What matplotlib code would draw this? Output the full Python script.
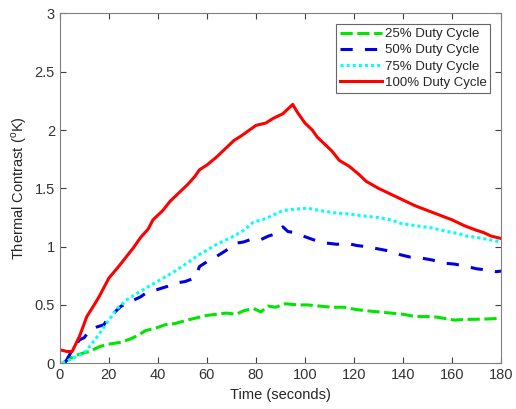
from matplotlib import pyplot as plt
import numpy as np

plt.rcParams['font.family'] = ['Liberation Sans', 'DejaVu Sans']
plt.rcParams['mathtext.fontset'] = 'custom'
plt.rcParams['mathtext.rm'] = 'Liberation Sans'

# (time in s, contrast in K)
t_red = [1, 3, 5, 8, 11, 14, 16, 20, 24, 27, 30, 33, 36, 38, 42, 45, 48, 52, 55, 57, 60, 64, 67, 71, 74, 76, 80, 84, 87, 91, 93, 95,
         97, 100, 103, 105, 108, 111, 114, 118, 122, 125, 130, 135, 140, 145, 150, 155, 160, 165, 170, 173, 176, 178, 180]
v_red = [0.11, 0.10, 0.10, 0.23, 0.40, 0.50, 0.57, 0.73, 0.83, 0.91, 0.99, 1.08, 1.15, 1.23, 1.31, 1.39, 1.45, 1.53, 1.60, 1.66, 1.70, 1.77, 1.83, 1.91, 1.95, 1.98, 2.04, 2.06, 2.10, 2.14, 2.18, 2.22,
         2.15, 2.06, 2.00, 1.94, 1.88, 1.82, 1.74, 1.69, 1.62, 1.56, 1.50, 1.45, 1.40, 1.35, 1.31, 1.27, 1.23, 1.18, 1.14, 1.12, 1.09, 1.08, 1.07]

t_cyan = [1, 4, 7, 10, 12, 15, 18, 21, 23, 27, 30, 34, 38, 43, 47, 52, 56, 60, 64, 67, 71, 75, 79, 84, 88, 91, 95, 101, 106, 112, 118,
          125, 130, 135, 139, 145, 152, 158, 163, 166, 170, 175, 180]
v_cyan = [0.0, 0.03, 0.06, 0.09, 0.14, 0.22, 0.31, 0.40, 0.46, 0.54, 0.58, 0.63, 0.68, 0.74, 0.79, 0.86, 0.92, 0.97, 1.02, 1.05, 1.09, 1.14, 1.21, 1.24, 1.28, 1.31, 1.32, 1.33, 1.31, 1.29, 1.28,
          1.26, 1.25, 1.23, 1.20, 1.18, 1.16, 1.13, 1.11, 1.09, 1.08, 1.06, 1.04]

t_blue = [2, 5, 8, 10, 12, 15, 18, 20, 22, 25, 28, 30, 33, 35, 38, 41, 44, 48, 51, 55, 57, 60, 62, 65, 68, 72, 75, 79, 82, 85, 88, 91,
          93, 96, 98, 102, 106, 109, 113, 117, 121, 125, 130, 135, 139, 143, 148, 152, 156, 161, 166, 170, 174, 178, 180]
v_blue = [0.0, 0.11, 0.20, 0.22, 0.28, 0.31, 0.33, 0.40, 0.43, 0.49, 0.51, 0.54, 0.57, 0.60, 0.62, 0.64, 0.66, 0.69, 0.70, 0.73, 0.83, 0.87, 0.89, 0.93, 0.97, 1.03, 1.04, 1.07, 1.06, 1.09, 1.11, 1.17,
          1.13, 1.12, 1.10, 1.07, 1.04, 1.03, 1.02, 1.03, 1.01, 1.00, 0.98, 0.96, 0.93, 0.91, 0.90, 0.885, 0.86, 0.85, 0.83, 0.81, 0.80, 0.785, 0.79]

t_green = [1, 4, 7, 10, 12, 16, 19, 22, 25, 29, 32, 35, 39, 43, 47, 52, 56, 60, 64, 68, 72, 75, 79, 82, 85, 88, 92, 97, 101, 106, 111,
           116, 121, 125, 130, 135, 140, 145, 150, 154, 158, 161, 165, 170, 175, 180]
v_green = [0.0, 0.04, 0.07, 0.09, 0.10, 0.14, 0.16, 0.17, 0.18, 0.21, 0.24, 0.28, 0.30, 0.33, 0.34, 0.37, 0.39, 0.41, 0.42, 0.43, 0.42, 0.45, 0.47, 0.44, 0.49, 0.48, 0.51, 0.50, 0.50, 0.49, 0.48,
           0.48, 0.46, 0.45, 0.44, 0.43, 0.42, 0.40, 0.40, 0.395, 0.38, 0.37, 0.375, 0.377, 0.38, 0.385]

labels = ["25% Duty Cycle", "50% Duty Cycle", "75% Duty Cycle", "100% Duty Cycle"]

fig = plt.figure(figsize=(5.16, 4.09), dpi=100)
ax = fig.add_axes([0.116, 0.112, 0.855, 0.855])

lw = 2.2
ax.plot(t_green, v_green, color='#00e600', lw=lw, dashes=(4, 1.5), label=labels[0])
ax.plot(t_blue, v_blue, color='#0000e0', lw=lw, dashes=(4, 4), label=labels[1])
ax.plot(t_cyan, v_cyan, color='#00ffff', lw=lw, dashes=(1, 1), label=labels[2])
ax.plot(t_red, v_red, color='#ff0000', lw=lw, label=labels[3])

ax.set_xlim(0, 180)
ax.set_ylim(0, 3)
ax.set_xticks(np.arange(0, 181, 20))
ax.set_yticks([0, 0.5, 1, 1.5, 2, 2.5, 3])
ax.set_yticklabels(['0', '0.5', '1', '1.5', '2', '2.5', '3'])
ax.tick_params(direction='in', top=True, right=True, colors='#404040', labelsize=10.5, length=4, labelcolor='#333333')
for s in ax.spines.values():
    s.set_color('#808080')
ax.set_xlabel("Time (seconds)", fontsize=10.5, color='#262626')
ax.set_ylabel(r"Thermal Contrast ($^{\rm o}$K)", fontsize=10.5, color='#262626')

leg = ax.legend(loc='upper right', fontsize=9.5, frameon=True, fancybox=False, handlelength=3.2,
                handletextpad=0.2, labelspacing=0.3, borderpad=0.3, borderaxespad=0.8)
leg.get_frame().set_edgecolor('#404040')
leg.get_frame().set_linewidth(0.8)
for txt in leg.get_texts():
    txt.set_color('#262626')

plt.savefig("out.png", dpi=100)
